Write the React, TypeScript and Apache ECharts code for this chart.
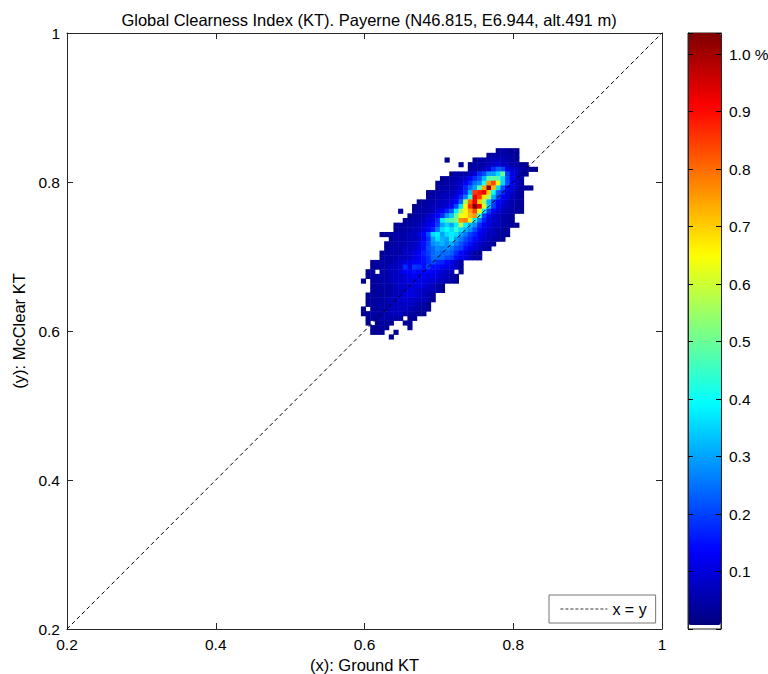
import React, { useEffect, useRef } from "react";
import * as echarts from "echarts";

const TITLE = "Global Clearness Index (KT). Payerne (N46.815, E6.944, alt.491 m)";
const X_NAME = "(x): Ground KT";
const Y_NAME = "(y): McClear KT";
const AXIS_MIN = 0.2;
const AXIS_MAX = 1;
const AXIS_STEP = 0.2;
const BAR_TICK = 0.1;
const BAR_MAX = 1.037;
const BAR_MIN = 0.008;
const JET = ["#00007f", "#0000ff", "#0080ff", "#00ffff", "#80ff80", "#ffff00", "#ff8000", "#ff0000", "#7f0000"];
const DIAGONAL = [[0.2, 0.2], [1, 1]];

// Bin geometry of the 2-D histogram.
const BIN = 0.00625;
const COL_ZERO_LEFT = 0.6205;
const ROW_ZERO_TOP = 0.8451;

// Each row: [first column, ...values in hundredths of a percent]; 0 = empty bin.
const ROWS: number[][] = [
  [25, 4, 5, 4, 3, 3],
  [23, 3, 5, 5, 5, 5, 4, 3],
  [14, 3, 0, 0, 0, 0, 0, 3, 4, 5, 5, 7, 7, 7, 5, 4, 3],
  [17, 3, 0, 3, 5, 5, 5, 7, 8, 10, 8, 7, 5, 5, 3, 3],
  [19, 4, 5, 5, 7, 10, 18, 23, 21, 11, 8, 7, 5, 5, 3, 3],
  [15, 3, 5, 5, 5, 7, 10, 18, 21, 30, 30, 36, 50, 20, 11, 8, 5, 3],
  [13, 3, 4, 5, 5, 7, 8, 13, 18, 22, 32, 47, 50, 48, 36, 21, 13, 8, 5],
  [12, 3, 4, 5, 5, 7, 8, 13, 18, 25, 28, 42, 76, 84, 64, 35, 22, 13, 8, 4],
  [12, 4, 5, 5, 5, 7, 10, 17, 24, 30, 48, 74, 102, 72, 36, 22, 14, 10, 7, 5, 4, 3],
  [10, 3, 4, 5, 5, 7, 7, 8, 13, 18, 32, 85, 88, 92, 70, 40, 23, 18, 11, 8, 5, 3],
  [10, 3, 5, 5, 7, 7, 8, 11, 17, 26, 45, 92, 85, 68, 56, 32, 21, 13, 10, 7, 5, 3],
  [8, 3, 4, 5, 5, 7, 7, 8, 10, 14, 24, 56, 80, 92, 70, 55, 32, 21, 14, 10, 8, 5, 5, 3],
  [7, 3, 4, 5, 5, 7, 7, 8, 10, 13, 21, 37, 66, 86, 103, 92, 62, 34, 20, 13, 8, 7, 5, 4, 3],
  [4, 3, 0, 0, 4, 5, 5, 5, 7, 10, 13, 17, 23, 38, 56, 66, 74, 84, 64, 38, 20, 13, 10, 7, 5, 5, 4, 3],
  [6, 3, 4, 5, 5, 8, 10, 14, 18, 28, 34, 50, 64, 66, 72, 76, 44, 20, 14, 8, 7, 5, 5, 3],
  [5, 3, 4, 5, 5, 7, 10, 11, 18, 38, 46, 48, 52, 76, 78, 62, 38, 26, 17, 11, 8, 7, 5, 4, 3],
  [3, 3, 4, 4, 5, 5, 7, 8, 11, 14, 20, 30, 35, 30, 38, 58, 38, 32, 28, 18, 13, 10, 7, 7, 5, 4, 4, 3],
  [3, 3, 4, 5, 5, 7, 7, 10, 13, 17, 26, 36, 40, 36, 44, 36, 32, 28, 21, 15, 11, 8, 7, 5, 4, 3],
  [0, 3, 3, 4, 5, 5, 5, 7, 7, 10, 14, 21, 36, 38, 30, 36, 38, 36, 30, 26, 20, 17, 13, 10, 7, 7, 5, 4, 3],
  [2, 3, 5, 5, 5, 7, 7, 8, 13, 18, 30, 36, 32, 30, 38, 30, 26, 21, 18, 14, 11, 8, 7, 5, 4, 3],
  [1, 3, 4, 5, 5, 5, 7, 8, 10, 15, 20, 28, 30, 32, 28, 32, 26, 22, 18, 15, 11, 8, 7, 5, 3],
  [1, 3, 5, 5, 5, 7, 7, 8, 11, 15, 21, 24, 28, 27, 28, 26, 22, 20, 15, 11, 10, 7, 5, 4],
  [0, 3, 4, 5, 5, 5, 7, 8, 10, 13, 17, 20, 24, 26, 24, 25, 23, 18, 14, 11, 8, 5, 3],
  [0, 3, 5, 5, 5, 7, 7, 8, 11, 13, 15, 18, 24, 24, 24, 21, 20, 15, 11, 10, 7, 5, 4],
  [-2, 3, 4, 5, 5, 5, 7, 8, 10, 11, 13, 14, 15, 18, 21, 18, 17, 14, 11, 8, 5],
  [-2, 3, 4, 5, 5, 7, 7, 8, 18, 11, 19, 18, 15, 20, 15, 15, 13, 11, 10, 7, 4],
  [-3, 3, 4, 0, 5, 5, 7, 7, 10, 13, 13, 15, 14, 13, 14, 13, 11, 10, 8, 7, 0, 3],
  [-3, 3, 4, 4, 5, 5, 7, 7, 8, 10, 11, 13, 11, 13, 11, 11, 10, 8, 7, 5, 3],
  [-4, 3, 0, 4, 4, 5, 5, 7, 8, 8, 10, 10, 11, 11, 11, 10, 10, 8, 7, 7, 5, 3],
  [-2, 3, 4, 5, 5, 5, 7, 8, 8, 10, 10, 11, 10, 8, 7, 5, 3],
  [-2, 3, 4, 4, 5, 5, 7, 7, 8, 10, 10, 8, 8, 7, 7, 5, 3],
  [-3, 3, 4, 4, 4, 5, 5, 7, 8, 10, 11, 10, 8, 7, 5, 3],
  [-3, 3, 4, 4, 5, 5, 7, 7, 8, 10, 8, 8, 7, 7, 5, 3],
  [-3, 3, 4, 5, 5, 5, 7, 7, 8, 8, 8, 7, 5, 5, 3],
  [-4, 3, 0, 4, 4, 5, 5, 7, 7, 7, 7, 7, 5, 5, 4, 3],
  [-4, 3, 4, 4, 5, 5, 5, 7, 7, 7, 5, 5, 4, 3, 3],
  [-3, 3, 4, 4, 5, 5, 5, 5, 4, 0, 3, 3],
  [-3, 3, 0, 3, 4, 4, 3, 0, 0, 3, 3],
  [-2, 3, 3, 4, 3, 0, 0, 0, 0, 3],
  [-2, 3, 3, 3, 0, 0, 3],
  [2, 3],
];

const FONT = "'Liberation Sans', Arial, sans-serif";
const INK = "#262626";

function cells(): number[][] {
  const out: number[][] = [];
  ROWS.forEach((row, r) => {
    row.slice(1).forEach((v, k) => {
      if (v > 0) {
        const c = row[0] + k;
        out.push([COL_ZERO_LEFT + (c + 0.5) * BIN, ROW_ZERO_TOP - (r + 0.5) * BIN, v / 100]);
      }
    });
  });
  return out;
}

function frameAxis(extra: any) {
  return {
    type: "value",
    min: AXIS_MIN,
    max: AXIS_MAX,
    interval: AXIS_STEP,
    splitLine: { show: false },
    axisLine: { show: true, onZero: false, lineStyle: { color: INK, width: 1 } },
    axisTick: { show: true, inside: true, length: 6, lineStyle: { color: INK, width: 1 } },
    ...extra,
  };
}

const tickLabel = {
  color: "#000",
  fontFamily: FONT,
  fontSize: 15.5,
  formatter: (v: number) => String(+v.toFixed(1)),
};

function barLabel(v: number) {
  if (v < 0.05 || v > 1.03) return "";
  return Math.abs(v - 1) < 1e-6 ? "1.0 %" : v.toFixed(1);
}

export default function App() {
  const ref = useRef<HTMLDivElement>(null);
  useEffect(() => {
    const chart = echarts.init(ref.current!, null, { renderer: "svg" });
    const barAxis = {
      gridIndex: 1,
      type: "value",
      min: 0,
      max: BAR_MAX,
      interval: BAR_TICK,
      z: 6,
      splitLine: { show: false },
      axisLine: { show: true, onZero: false, lineStyle: { color: INK, width: 1 } },
      axisTick: { show: true, inside: true, length: 5, lineStyle: { color: "#000", width: 1 } },
    };
    chart.setOption({
      animation: false,
      backgroundColor: "#fff",
      title: {
        text: TITLE,
        left: 364,
        top: 6,
        textAlign: "center",
        textStyle: { color: "#000", fontFamily: FONT, fontSize: 16.5, fontWeight: "normal" },
      },
      grid: [
        { left: 67, top: 33, width: 595, height: 596, outerBoundsMode: "none", show: true, backgroundColor: "#fff", borderWidth: 0 },
        { left: 688, top: 33, width: 33, height: 596, outerBoundsMode: "none", show: true, backgroundColor: "#fff", borderColor: INK, borderWidth: 1 },
      ],
      xAxis: [
        frameAxis({
          gridIndex: 0,
          position: "bottom",
          name: X_NAME,
          nameLocation: "middle",
          nameGap: 27,
          nameTextStyle: { color: "#000", fontFamily: FONT, fontSize: 16.5 },
          axisLabel: { ...tickLabel, margin: 7 },
        }),
        frameAxis({ gridIndex: 0, position: "top", axisLabel: { show: false } }),
        { gridIndex: 1, type: "value", min: 0, max: 1, show: false },
      ],
      yAxis: [
        frameAxis({
          gridIndex: 0,
          position: "left",
          name: Y_NAME,
          nameLocation: "middle",
          nameGap: 33,
          nameTextStyle: { color: "#000", fontFamily: FONT, fontSize: 16.5 },
          axisLabel: { ...tickLabel, margin: 7 },
        }),
        frameAxis({ gridIndex: 0, position: "right", axisLabel: { show: false } }),
        { ...barAxis, position: "left", axisLabel: { show: false } },
        {
          ...barAxis,
          position: "right",
          axisLabel: {
            show: true,
            color: "#000",
            fontFamily: FONT,
            fontSize: 15.5,
            margin: 8,
            formatter: barLabel,
          },
        },
      ],
      visualMap: {
        type: "continuous",
        seriesIndex: 0,
        dimension: 2,
        min: BAR_MIN,
        max: BAR_MAX,
        left: 688,
        top: 33,
        itemWidth: 33,
        itemHeight: 592,
        padding: 0,
        z: 2,
        text: [],
        showLabel: false,
        calculable: false,
        hoverLink: false,
        inRange: { color: JET },
      },
      legend: {
        show: true,
        left: 549,
        top: 595,
        padding: [6, 9, 6, 11],
        itemWidth: 47,
        itemHeight: 14,
        itemGap: 4,
        borderColor: "#777",
        borderWidth: 1,
        backgroundColor: "#fff",
        itemStyle: { opacity: 0 },
        lineStyle: { color: "#000", width: 0.8, type: [3, 2] },
        textStyle: { color: "#000", fontFamily: FONT, fontSize: 16 },
        data: ["x = y"],
      },
      series: [
        {
          type: "custom",
          coordinateSystem: "cartesian2d",
          xAxisIndex: 0,
          yAxisIndex: 0,
          encode: { x: 0, y: 1 },
          data: cells(),
          renderItem: (_: any, api: any) => {
            const p = api.coord([api.value(0), api.value(1)]);
            const s = api.size([BIN, BIN]);
            const color = api.visual("color");
            return {
              type: "rect",
              shape: { x: p[0] - s[0] / 2 - 0.25, y: p[1] - s[1] / 2 - 0.25, width: s[0] + 0.5, height: s[1] + 0.5 },
              style: { fill: color },
            };
          },
        },
        {
          name: "x = y",
          type: "line",
          xAxisIndex: 0,
          yAxisIndex: 0,
          data: DIAGONAL,
          symbol: "none",
          z: 5,
          itemStyle: { color: "#000" },
          lineStyle: { color: "#000", width: 1, type: [4, 3] },
        },
      ],
    });
    return () => chart.dispose();
  }, []);
  return <div ref={ref} style={{ position: "fixed", left: 0, top: 0, width: 768, height: 674 }} />;
}
